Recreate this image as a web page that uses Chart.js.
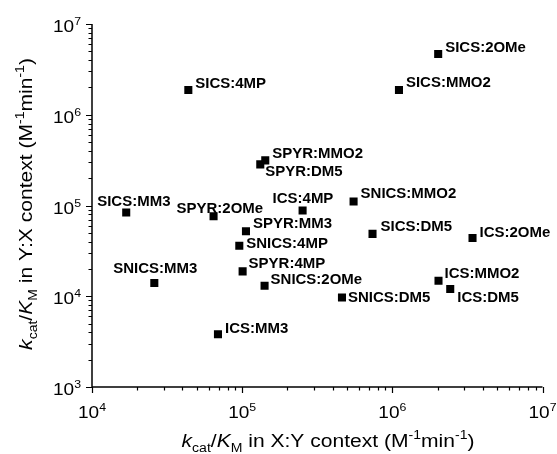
<!DOCTYPE html>
<html>
<head>
<meta charset="utf-8">
<script src="https://cdn.jsdelivr.net/npm/chart.js@4/dist/chart.umd.min.js"></script>
<style>
html,body{margin:0;padding:0;background:#fff;}
canvas{display:block;}
</style>
</head>
<body>
<canvas id="c" width="557" height="454"></canvas>
<script>
// ---- data ----
const pointLabels = [
  "SICS:4MP","SICS:2OMe","SICS:MMO2","SPYR:MMO2","SPYR:DM5",
  "SICS:MM3","SPYR:2OMe","ICS:4MP","SNICS:MMO2","SICS:DM5",
  "ICS:2OMe","ICS:MMO2","ICS:DM5","SNICS:DM5","SPYR:MM3",
  "SNICS:4MP","SPYR:4MP","SNICS:2OMe","SNICS:MM3","ICS:MM3"
];
const xyValues = [ // kcat/KM in X:Y context
  43800, 2020000, 1107000, 142500, 132000,
  16900, 64500, 252600, 552000, 738000,
  3420000, 2030000, 2430000, 462000, 106000,
  95700, 100700, 141000, 26000, 69000
];
const yxValues = [ // kcat/KM in Y:X context
  1870000, 4660000, 1870000, 314000, 284000,
  83700, 76200, 88100, 110700, 48700,
  43900, 14830, 12000, 9700, 52000,
  36100, 18800, 13060, 14000, 3820
];
const xTickExponents = [4, 5, 6, 7];
const yTickExponents = [3, 4, 5, 6, 7];

// ---- label placement (pixels relative to marker: left edge, vertical centre) ----
const labelOffsets = [
  [7,-6],[7,-6],[7,-7],[7,-6],[5,8],
  [-29,-10],[-37,-7],[-30,-11],[7,-7],[8,-7],
  [7,-5],[6,-7],[7,9],[6,1],[7,-7],
  [7,-2],[6,-7],[6,-6],[-41,-14],[7,-5]
];

const FAM = '"Liberation Sans", Arial, Helvetica, sans-serif';

function runsWidth(ctx, runs){
  let w = 0;
  for (const r of runs){ ctx.font = r.font; w += ctx.measureText(r.text).width; }
  return w;
}
function drawRuns(ctx, runs, x, y){
  let cx = x;
  for (const r of runs){
    ctx.font = r.font;
    ctx.fillText(r.text, cx, y + (r.dy || 0));
    cx += ctx.measureText(r.text).width;
  }
}
function titleRuns(ctxText){
  const base = '18px ' + FAM, it = 'italic 18px ' + FAM, sm = '12px ' + FAM;
  return [
    {text:'k', font:it},
    {text:'cat', font:sm, dy:5},
    {text:'/', font:base},
    {text:'K', font:it},
    {text:'M', font:sm, dy:5},
    {text:' in ' + ctxText + ' context (M', font:base},
    {text:'-1', font:sm, dy:-8},
    {text:'min', font:base},
    {text:'-1', font:sm, dy:-8},
    {text:')', font:base}
  ];
}

const decor = {
  id: 'decor',
  afterDatasetsDraw(chart){
    const ctx = chart.ctx;
    const xs = chart.scales.x, ys = chart.scales.y;
    const L = xs.left, R = xs.right, T = ys.top, B = ys.bottom;
    ctx.save();
    ctx.strokeStyle = '#000';
    ctx.fillStyle = '#000';
    ctx.lineWidth = 1.5;
    // axis lines
    ctx.beginPath();
    ctx.moveTo(L, T); ctx.lineTo(L, B + 0.75);
    ctx.moveTo(L - 0.75, B); ctx.lineTo(R, B);
    ctx.stroke();
    // ticks
    ctx.lineWidth = 1.2;
    ctx.beginPath();
    for (let e = xTickExponents[0]; e <= xTickExponents[xTickExponents.length-1]; e++){
      for (let m = 1; m <= 9; m++){
        const v = m * Math.pow(10, e);
        if (v > xs.max * 1.0001) break;
        const px = Math.round(xs.getPixelForValue(v)) + 0.5;
        const len = (m === 1) ? 6 : 3.5;
        ctx.moveTo(px, B); ctx.lineTo(px, B + len);
      }
    }
    for (let e = yTickExponents[0]; e <= yTickExponents[yTickExponents.length-1]; e++){
      for (let m = 1; m <= 9; m++){
        const v = m * Math.pow(10, e);
        if (v > ys.max * 1.0001) break;
        const py = Math.round(ys.getPixelForValue(v)) + 0.5;
        const len = (m === 1) ? 6 : 3.5;
        ctx.moveTo(L, py); ctx.lineTo(L - len, py);
      }
    }
    ctx.stroke();

    // tick labels
    const SX = 1.12;
    ctx.textBaseline = 'alphabetic';
    ctx.textAlign = 'left';
    const tickRuns = (e) => [
      {text:'10', font:'17px ' + FAM},
      {text:String(e), font:'11px ' + FAM, dy:-7}
    ];
    for (const e of xTickExponents){
      const px = xs.getPixelForValue(Math.pow(10, e));
      const runs = tickRuns(e);
      const w = runsWidth(ctx, runs) * SX;
      ctx.save();
      ctx.translate(px - w/2, B + 31);
      ctx.scale(SX, 1);
      drawRuns(ctx, runs, 0, 0);
      ctx.restore();
    }
    for (const e of yTickExponents){
      const py = ys.getPixelForValue(Math.pow(10, e));
      const runs = tickRuns(e);
      const w = runsWidth(ctx, runs) * SX;
      ctx.save();
      ctx.translate(L - 11 - w, py + 8);
      ctx.scale(SX, 1);
      drawRuns(ctx, runs, 0, 0);
      ctx.restore();
    }

    // axis titles
    const TS = 1.17;
    {
      const runs = titleRuns('X:Y');
      const w = runsWidth(ctx, runs) * TS;
      ctx.save();
      ctx.translate(328 - w/2, 447);
      ctx.scale(TS, 1);
      drawRuns(ctx, runs, 0, 0);
      ctx.restore();
    }
    {
      const runs = titleRuns('Y:X');
      const w = runsWidth(ctx, runs) * TS;
      ctx.save();
      ctx.translate(32, 204 + w/2);
      ctx.rotate(-Math.PI/2);
      ctx.scale(TS, 1);
      drawRuns(ctx, runs, 0, 0);
      ctx.restore();
    }

    // point labels
    const meta = chart.getDatasetMeta(0);
    ctx.font = 'bold 14px ' + FAM;
    ctx.textBaseline = 'middle';
    ctx.textAlign = 'left';
    const LS = 1.07;
    meta.data.forEach((pt, i) => {
      const off = labelOffsets[i];
      ctx.save();
      ctx.translate(pt.x + off[0], pt.y + off[1]);
      ctx.scale(LS, 1);
      ctx.fillText(pointLabels[i], 0, 0);
      ctx.restore();
    });
    ctx.restore();
  }
};

new Chart(document.getElementById('c'), {
  type: 'scatter',
  data: {
    datasets: [{
      data: xyValues.map((v, i) => ({x: v, y: yxValues[i]})),
      pointStyle: 'rect',
      pointRadius: 5.7,
      pointBorderWidth: 0,
      backgroundColor: '#000',
      borderColor: '#000'
    }]
  },
  options: {
    responsive: false,
    animation: false,
    devicePixelRatio: 1,
    layout: { padding: { left: 92, right: 14.5, top: 24, bottom: 67 } },
    plugins: { legend: { display: false }, tooltip: { enabled: false } },
    scales: {
      x: { type: 'logarithmic', min: 1e4, max: 1e7, display: false },
      y: { type: 'logarithmic', min: 1e3, max: 1e7, display: false }
    }
  },
  plugins: [decor]
});
</script>
</body>
</html>
